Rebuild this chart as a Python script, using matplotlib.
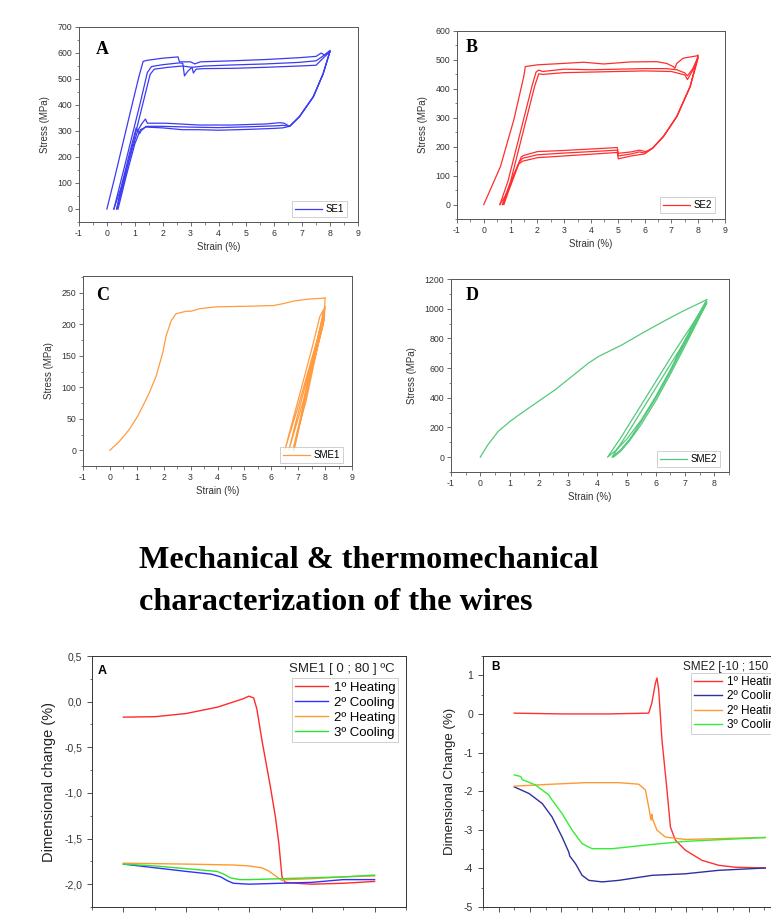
#!/usr/bin/env python3
"""
Mechanical (stress-strain) and thermomechanical (dilatometry) curves
of the SE / SME wires, redrawn as one poster-style figure.
"""

import matplotlib
matplotlib.use('Agg')  # no display in the sandbox
import matplotlib.pyplot as plt
from matplotlib.ticker import MultipleLocator, FuncFormatter

FIG_W, FIG_H = 771, 917

# ---------------------------------------------------------------- data
# Panel A - SE1, three load/unload cycles (strain %, stress MPa)
se1_strain = [
    [0, 0.3, 0.6, 0.9, 1.15, 1.3, 1.45, 2.0, 2.55, 2.6, 3.0, 3.15, 3.35, 4.5, 5.7, 6.9, 7.5, 7.68, 7.8, 8.0,
     7.75, 7.4, 6.9, 6.55, 6.35, 6.2, 5.7, 4.5, 3.3, 2.1, 1.45, 1.38, 1.25, 1.1, 0.8, 0.5, 0.25],
    [0.25, 0.6, 0.9, 1.2, 1.45, 1.6, 2.0, 2.6, 2.72, 2.78, 2.9, 3.05, 3.5, 4.5, 5.7, 6.9, 7.5, 7.7, 8.0,
     7.75, 7.4, 6.9, 6.55, 6.3, 6.1, 5.0, 4.0, 3.0, 2.0, 1.4, 1.22, 1.17, 1.05, 0.8, 0.55, 0.35],
    [0.35, 0.7, 1.0, 1.3, 1.55, 1.7, 2.2, 2.7, 3.05, 3.1, 3.2, 3.5, 4.5, 5.7, 6.9, 7.5, 7.7, 8.0,
     7.75, 7.4, 6.9, 6.55, 6.3, 6.0, 5.0, 4.0, 3.3, 2.7, 2.0, 1.4, 1.2, 1.0, 0.7, 0.4],
]
se1_stress = [
    [0, 130, 265, 400, 510, 568, 572, 580, 585, 566, 566, 558, 566, 570, 575, 582, 587, 600, 592, 610,
     520, 432, 355, 318, 330, 332, 327, 323, 323, 330, 330, 346, 328, 300, 190, 80, 0],
    [0, 150, 280, 410, 525, 548, 555, 562, 560, 512, 530, 545, 550, 554, 558, 564, 570, 585, 608,
     520, 432, 355, 318, 322, 320, 316, 313, 315, 318, 318, 300, 290, 312, 210, 100, 0],
    [0, 150, 280, 410, 518, 538, 545, 550, 545, 523, 538, 540, 541, 545, 550, 553, 575, 606,
     520, 432, 355, 318, 312, 310, 306, 303, 305, 305, 312, 315, 305, 250, 130, 0],
]

# Panel B - SE2
se2_strain = [
    [0, 0.62, 1.12, 1.49, 1.55, 1.99, 2.98, 3.72, 4.47, 5.46, 6.45, 6.82, 7.07, 7.13, 7.2, 7.44, 7.94, 8.0,
     7.7, 7.2, 6.7, 6.3, 6.05, 5.8, 5.5, 5.02, 4.98, 4.0, 3.0, 2.0, 1.5, 1.4, 1.2, 1.0, 0.8, 0.6],
    [0.6, 0.9, 1.2, 1.5, 1.8, 1.95, 2.05, 2.2, 3.0, 4.0, 5.0, 6.0, 6.8, 7.2, 7.5, 7.6, 7.8, 8.0,
     7.7, 7.2, 6.7, 6.3, 6.0, 5.8, 5.5, 5.02, 4.98, 4.0, 3.0, 2.0, 1.45, 1.35, 1.1, 0.9, 0.7],
    [0.7, 1.0, 1.3, 1.6, 1.9, 2.05, 2.2, 3.0, 4.0, 5.0, 6.0, 7.0, 7.5, 7.6, 7.8, 8.0,
     7.7, 7.2, 6.7, 6.3, 6.0, 5.5, 5.02, 4.98, 4.0, 3.0, 2.0, 1.45, 1.3, 1.1, 0.9, 0.75],
]
se2_stress = [
    [0, 131, 293, 442, 477, 483, 488, 492, 486, 493, 494, 488, 477, 471, 488, 506, 514, 517,
     408, 304, 235, 195, 183, 188, 182, 177, 197, 192, 187, 183, 170, 165, 120, 70, 30, 0],
    [0, 80, 190, 300, 410, 458, 465, 460, 468, 466, 468, 470, 470, 466, 455, 445, 470, 512,
     408, 304, 235, 195, 178, 182, 175, 168, 188, 183, 178, 172, 160, 150, 100, 50, 0],
    [0, 80, 190, 300, 410, 452, 450, 456, 458, 460, 462, 460, 448, 432, 465, 508,
     408, 304, 235, 195, 175, 168, 158, 180, 174, 168, 162, 150, 140, 90, 40, 0],
]

# Panel C - SME1 (first loading, then the unload/reload loops)
sme1_load_strain = [0, 0.35, 0.72, 1.03, 1.22, 1.47, 1.72, 1.97, 2.09, 2.28, 2.46, 2.84, 3.02, 3.33,
                    3.96, 5.2, 6.07, 6.44, 6.82, 7.31, 8.0]
sme1_load_stress = [0, 14, 33, 54, 70, 92, 118, 156, 182, 206, 217, 221, 221, 225,
                    228, 229, 230, 233, 237, 240, 242]
sme1_loop_strain = [8.0, 7.98, 7.8, 7.4, 7.0, 6.5, 7.0, 7.5, 7.8, 8.0, 7.95, 7.5, 7.0, 6.65, 7.2, 7.6,
                    7.95, 7.9, 7.4, 6.8, 7.3, 7.7, 7.98, 7.93, 7.45, 6.85]
sme1_loop_stress = [242, 225, 190, 130, 70, 0, 80, 160, 212, 228, 205, 140, 60, 0, 80, 155,
                    222, 195, 110, 0, 80, 160, 215, 200, 120, 0]

# Panel D - SME2
sme2_load_strain = [0, 0.26, 0.61, 1.01, 1.41, 1.98, 2.56, 3.13, 3.7, 4.05, 4.85, 5.54, 6.22, 6.91, 7.74]
sme2_load_stress = [0, 83, 173, 240, 297, 375, 454, 544, 634, 679, 757, 836, 910, 982, 1061]
sme2_loop_strain = [7.74, 7.4, 7.0, 6.5, 6.0, 5.5, 5.0, 4.6, 4.35, 4.8, 5.4, 6.0, 6.6, 7.2, 7.74,
                    7.4, 7.0, 6.5, 6.0, 5.5, 5.1, 4.8, 4.5, 5.0, 5.6, 6.2, 6.8, 7.3, 7.74,
                    7.4, 7.0, 6.5, 6.0, 5.5, 5.1, 4.8, 4.55]
sme2_loop_stress = [1061, 940, 790, 590, 410, 250, 120, 40, 0, 130, 320, 510, 700, 880, 1045,
                    920, 770, 580, 400, 240, 120, 50, 0, 150, 340, 530, 720, 880, 1040,
                    905, 750, 560, 380, 220, 110, 40, 0]

# Dilatometry SME1 [0 ; 80] ºC  (temperature ºC, dimensional change %)
d1_heat1_t = [0, 10, 20, 30, 38, 40, 41.5, 42.5, 44.1, 46.8, 48.4, 49.5, 50.5, 51.5, 55, 60, 70, 80]
d1_heat1_v = [-0.17, -0.165, -0.13, -0.06, 0.03, 0.06, 0.04, -0.08, -0.42, -0.93, -1.26, -1.55,
              -1.92, -1.98, -1.99, -2.0, -1.99, -1.97]
d1_cool2_t = [0, 10, 20, 28, 31, 33, 35, 40, 50, 60, 70, 80]
d1_cool2_v = [-1.78, -1.82, -1.86, -1.89, -1.92, -1.96, -1.99, -2.0, -1.99, -1.98, -1.95, -1.95]
d1_heat2_t = [0, 20, 35, 40, 44, 46, 48.9, 50.5, 52, 60, 70, 80]
d1_heat2_v = [-1.77, -1.78, -1.79, -1.80, -1.82, -1.85, -1.92, -1.96, -1.95, -1.94, -1.92, -1.91]
d1_cool3_t = [0, 10, 20, 29.8, 32, 34, 37, 40, 50, 60, 70, 80]
d1_cool3_v = [-1.78, -1.80, -1.83, -1.86, -1.89, -1.93, -1.95, -1.95, -1.94, -1.93, -1.92, -1.90]

# Dilatometry SME2 [-10 ; 150] ºC
d2_heat1_t = [-10, 20, 50, 76, 78, 80.3, 81.3, 82.4, 84.5, 87.7, 89.9, 93.1, 99.5, 110, 120.8, 131.4, 150.6]
d2_heat1_v = [0.02, 0.0, 0.0, 0.02, 0.28, 0.8, 0.93, 0.62, -0.68, -1.97, -2.93, -3.27, -3.53, -3.79,
              -3.92, -3.97, -3.99]
d2_cool2_t = [-10, -0.6, 7.9, 14.2, 20.6, 24.9, 25.5, 29.2, 33.4, 37.7, 46.2, 56.9, 78.2, 99.5, 120.8, 150.6]
d2_cool2_v = [-1.89, -2.06, -2.32, -2.67, -3.19, -3.58, -3.68, -3.88, -4.18, -4.31, -4.35, -4.31,
              -4.18, -4.14, -4.05, -3.99]
d2_heat2_t = [-10, 14.2, 35.6, 56.9, 69.6, 73.9, 76, 77.5, 78, 78.4, 79.2, 81.3, 86.7, 99.5, 120.8, 150.6]
d2_heat2_v = [-1.87, -1.82, -1.78, -1.78, -1.82, -1.97, -2.41, -2.75, -2.6, -2.7, -2.8, -3.01, -3.19,
              -3.25, -3.23, -3.2]
d2_cool3_t = [-10, -5.9, -4.9, 3.6, 12.1, 14.2, 20.6, 27, 33.4, 39.8, 52.6, 78.2, 99.5, 150.6]
d2_cool3_v = [-1.58, -1.62, -1.70, -1.84, -2.1, -2.23, -2.58, -3.01, -3.36, -3.49, -3.49, -3.38, -3.3, -3.2]

run_labels = ['1º Heating', '2º Cooling', '2º Heating', '3º Cooling']


def add_axes_px(fig, left, top, right, bottom):
    """Add axes from pixel box (origin top-left)."""
    return fig.add_axes([left / FIG_W, 1 - bottom / FIG_H,
                         (right - left) / FIG_W, (bottom - top) / FIG_H])


def fig_xy(x, y):
    return x / FIG_W, 1 - y / FIG_H


def style_axes(ax, xlim, ylim, xmajor, ymajor, labelsize, spine='#555555'):
    ax.set_xlim(*xlim)
    ax.set_ylim(*ylim)
    ax.xaxis.set_major_locator(MultipleLocator(xmajor))
    ax.xaxis.set_minor_locator(MultipleLocator(xmajor / 2))
    ax.yaxis.set_major_locator(MultipleLocator(ymajor))
    ax.yaxis.set_minor_locator(MultipleLocator(ymajor / 2))
    ax.tick_params(which='both', direction='out', top=False, right=False,
                   color=spine, labelcolor='#333333', labelsize=labelsize)
    ax.tick_params(which='major', length=3, width=0.6, pad=2)
    ax.tick_params(which='minor', length=1.8, width=0.5)
    for s in ax.spines.values():
        s.set_color(spine)
        s.set_linewidth(0.7)


def small_legend(ax, fig, x, y):
    leg = ax.legend(loc='lower right', bbox_to_anchor=fig_xy(x, y),
                    bbox_transform=fig.transFigure, fontsize=7, frameon=True,
                    fancybox=False, handlelength=2.8, borderaxespad=0,
                    borderpad=0.3, handletextpad=0.4)
    leg.get_frame().set_edgecolor('#bbbbbb')
    leg.get_frame().set_linewidth(0.6)


def stress_panel(fig, box, letter, letter_xy, xlim, ylim, ymajor):
    ax = add_axes_px(fig, *box)
    style_axes(ax, xlim, ylim, 1, ymajor, 6.3)
    ax.set_xlabel('Strain (%)', fontsize=7, color='#333333', labelpad=3)
    ax.set_ylabel('Stress (MPa)', fontsize=7, color='#333333', labelpad=5)
    fig.text(*fig_xy(*letter_xy), letter, family='Liberation Serif', weight='bold',
             fontsize=13, va='center', ha='left')
    return ax


def create_figure():
    fig = plt.figure(figsize=(FIG_W / 100, FIG_H / 100), dpi=100)

    # ---- A: SE1
    ax = stress_panel(fig, (79, 27, 358, 222), 'A', (96, 50), (-1, 9), (-50, 700), 100)
    for i, (xs, ys) in enumerate(zip(se1_strain, se1_stress)):
        ax.plot(xs, ys, color='#3b3bf2', lw=0.9, label='SE1' if i == 0 else None)
    small_legend(ax, fig, 347, 217)

    # ---- B: SE2
    ax = stress_panel(fig, (457, 31, 725, 219), 'B', (466, 48), (-1, 9), (-50, 600), 100)
    for i, (xs, ys) in enumerate(zip(se2_strain, se2_stress)):
        ax.plot(xs, ys, color='#ff2e2e', lw=0.9, label='SE2' if i == 0 else None)
    small_legend(ax, fig, 715, 213)

    # ---- C: SME1
    ax = stress_panel(fig, (83, 276, 352, 466), 'C', (96, 296), (-1, 9), (-25, 277), 50)
    ax.plot(sme1_load_strain, sme1_load_stress, color='#ff9c40', lw=0.9, label='SME1')
    ax.plot(sme1_loop_strain, sme1_loop_stress, color='#ff9c40', lw=0.9)
    small_legend(ax, fig, 343, 463)

    # ---- D: SME2
    ax = stress_panel(fig, (451, 279, 729, 472), 'D', (466, 296), (-1, 8.5), (-100, 1200), 200)
    ax.plot(sme2_load_strain, sme2_load_stress, color='#55c97c', lw=0.9, label='SME2')
    ax.plot(sme2_loop_strain, sme2_loop_stress, color='#55c97c', lw=0.9)
    small_legend(ax, fig, 720, 467)

    # ---- heading
    for text, y in [('Mechanical & thermomechanical', 568),
                    ('characterization of the wires', 610)]:
        fig.text(*fig_xy(139, y), text, family='Liberation Serif', weight='bold',
                 fontsize=23.2, va='baseline', ha='left')

    comma = FuncFormatter(lambda v, p: f'{v:.1f}'.replace('.', ','))

    # ---- dilatometry SME1
    ax = add_axes_px(fig, 92, 656, 406, 907)
    style_axes(ax, (-10, 90), (-2.25, 0.5), 20, 0.5, 7.5, spine='#333333')
    ax.tick_params(which='major', length=3.5, pad=3.5)
    ax.yaxis.set_major_formatter(comma)
    ax.set_ylabel('Dimensional change (%)', fontsize=10.5, color='#222222', labelpad=6)
    colors = ['#ff2a2a', '#3030ff', '#ff9a30', '#33e033']
    series = [(d1_heat1_t, d1_heat1_v), (d1_cool2_t, d1_cool2_v),
              (d1_heat2_t, d1_heat2_v), (d1_cool3_t, d1_cool3_v)]
    for (t, v), c, lab in zip(series, colors, run_labels):
        ax.plot(t, v, color=c, lw=1.0, label=lab)
    leg = ax.legend(loc='upper left', bbox_to_anchor=fig_xy(292, 678),
                    bbox_transform=fig.transFigure, fontsize=9.5, fancybox=False,
                    handlelength=2.5, borderaxespad=0, borderpad=0.25,
                    labelspacing=0.22, handletextpad=0.4)
    leg.get_frame().set_edgecolor('#bbbbbb')
    leg.get_frame().set_linewidth(0.6)
    fig.text(*fig_xy(289, 669), 'SME1 [ 0 ; 80 ] ºC', fontsize=9.5, va='center', color='#222222')
    fig.text(*fig_xy(98, 671), 'A', fontsize=9, weight='bold', va='center')

    # ---- dilatometry SME2 (right part is cut by the figure edge)
    ax = add_axes_px(fig, 483, 656, 780, 907)
    style_axes(ax, (-30, 160), (-5, 1.5), 20, 1, 7.5, spine='#333333')
    ax.tick_params(which='major', length=3.5, pad=3.5)
    ax.set_ylabel('Dimensional Change (%)', fontsize=9.5, color='#222222', labelpad=6)
    colors = ['#ff3030', '#30309c', '#ff9933', '#33ee33']
    series = [(d2_heat1_t, d2_heat1_v), (d2_cool2_t, d2_cool2_v),
              (d2_heat2_t, d2_heat2_v), (d2_cool3_t, d2_cool3_v)]
    for (t, v), c, lab in zip(series, colors, run_labels):
        ax.plot(t, v, color=c, lw=1.0, label=lab)
    leg = ax.legend(loc='upper left', bbox_to_anchor=fig_xy(691, 673),
                    bbox_transform=fig.transFigure, fontsize=8.5, fancybox=False,
                    handlelength=2.4, borderaxespad=0, borderpad=0.25,
                    labelspacing=0.2, handletextpad=0.4)
    leg.get_frame().set_edgecolor('#bbbbbb')
    leg.get_frame().set_linewidth(0.6)
    fig.text(*fig_xy(683, 667), 'SME2 [-10 ; 150 ] ºC', fontsize=8.5, va='center', color='#222222')
    fig.text(*fig_xy(491, 667), 'B', fontsize=8.5, weight='bold', va='center')

    return fig


def main():
    plt.rcParams['font.family'] = ['Liberation Sans', 'DejaVu Sans']
    plt.rcParams['axes.unicode_minus'] = False
    fig = create_figure()
    fig.savefig('out.png', dpi=100)
    return 0


if __name__ == '__main__':
    main()
